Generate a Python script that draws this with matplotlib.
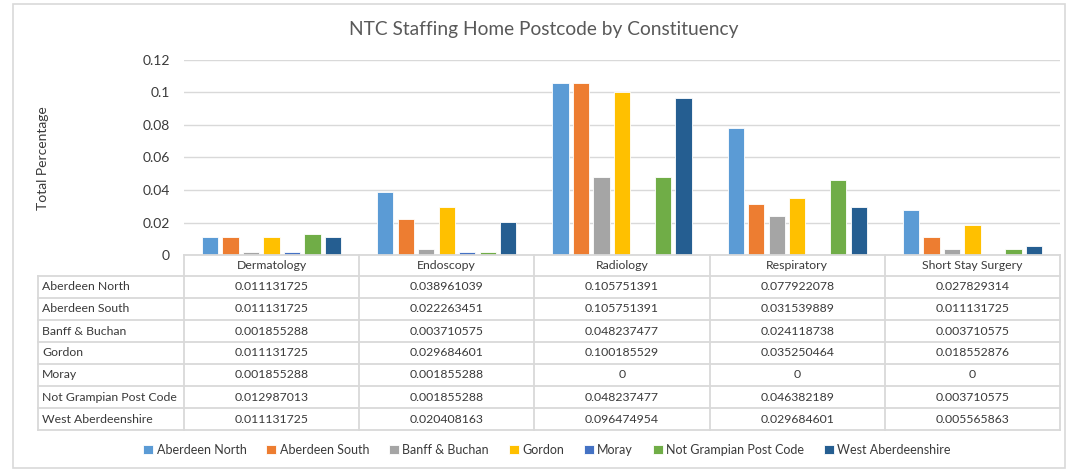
import matplotlib
matplotlib.use("Agg")
import matplotlib.pyplot as plt
from matplotlib.patches import Rectangle
from matplotlib.lines import Line2D
import numpy as np

plt.rcParams['font.family'] = ['Lato', 'DejaVu Sans']

categories = ["Dermatology", "Endoscopy", "Radiology", "Respiratory", "Short Stay Surgery"]
series_names = ["Aberdeen North", "Aberdeen South", "Banff & Buchan", "Gordon", "Moray",
                "Not Grampian Post Code", "West Aberdeenshire"]
aberdeen_north = [0.011131725, 0.038961039, 0.105751391, 0.077922078, 0.027829314]
aberdeen_south = [0.011131725, 0.022263451, 0.105751391, 0.031539889, 0.011131725]
banff_buchan = [0.001855288, 0.003710575, 0.048237477, 0.024118738, 0.003710575]
gordon = [0.011131725, 0.029684601, 0.100185529, 0.035250464, 0.018552876]
moray = [0.001855288, 0.001855288, 0, 0, 0]
not_grampian = [0.012987013, 0.001855288, 0.048237477, 0.046382189, 0.003710575]
west_aberdeenshire = [0.011131725, 0.020408163, 0.096474954, 0.029684601, 0.005565863]
series_values = [aberdeen_north, aberdeen_south, banff_buchan, gordon, moray,
                 not_grampian, west_aberdeenshire]
table_text = [
    ["0.011131725", "0.038961039", "0.105751391", "0.077922078", "0.027829314"],
    ["0.011131725", "0.022263451", "0.105751391", "0.031539889", "0.011131725"],
    ["0.001855288", "0.003710575", "0.048237477", "0.024118738", "0.003710575"],
    ["0.011131725", "0.029684601", "0.100185529", "0.035250464", "0.018552876"],
    ["0.001855288", "0.001855288", "0", "0", "0"],
    ["0.012987013", "0.001855288", "0.048237477", "0.046382189", "0.003710575"],
    ["0.011131725", "0.020408163", "0.096474954", "0.029684601", "0.005565863"],
]
yticks = [0, 0.02, 0.04, 0.06, 0.08, 0.1, 0.12]
ytick_labels = ["0", "0.02", "0.04", "0.06", "0.08", "0.1", "0.12"]
colors = ["#5B9BD5", "#ED7D31", "#A5A5A5", "#FFC000", "#4472C4", "#70AD47", "#255E91"]

W, H = 1068, 469
fig = plt.figure(figsize=(W / 100, H / 100), dpi=100)

def fx(x):
    return x / W

def fy(y):
    return 1 - y / H

grid_c = "#D9D9D9"
text_c = "#3A3A3A"

# outer frame
fig.patches.append(Rectangle((fx(13), fy(468)), fx(1065) - fx(13), fy(4) - fy(468),
                             transform=fig.transFigure, fill=False, edgecolor="#D9D9D9", lw=1.2))

px_left, px_right, px_top, px_zero = 184, 1060, 60, 255
ax = fig.add_axes([fx(px_left), fy(px_zero), fx(px_right) - fx(px_left), fy(px_top) - fy(px_zero)])
ax.set_xlim(0, len(categories))
ax.set_ylim(0, 0.12)
x = np.arange(len(categories)) + 0.5
bw = 0.093
step = 0.117
for i, (name, vals) in enumerate(zip(series_names, series_values)):
    ax.bar(x + (i - 3) * step, vals, width=bw, color=colors[i], edgecolor="white",
           linewidth=0.6, label=name, zorder=3)
ax.set_yticks(yticks)
ax.set_yticklabels(ytick_labels, fontsize=10, color=text_c)
ax.yaxis.grid(True, color=grid_c, lw=1, zorder=0)
ax.set_xticks([])
for s in ax.spines.values():
    s.set_visible(False)
ax.tick_params(axis='y', length=0, pad=10)

fig.text(fx(544), fy(29), "NTC Staffing Home Postcode by Constituency", ha="center", va="center",
         fontsize=13.8, color="#595959")
fig.text(fx(43), fy(158), "Total Percentage", rotation=90, ha="center", va="center",
         fontsize=10, color=text_c)

# data table
col_w = (px_right - px_left) / len(categories)
hdr_top, hdr_bot = 255, 276
row_h = 22
lab_left = 38
n_rows = len(series_names)
tab_bot = hdr_bot + n_rows * row_h
tfs = 8.8

def hline(y, x0, x1):
    fig.add_artist(Line2D([fx(x0), fx(x1)], [fy(y), fy(y)], transform=fig.transFigure,
                          color=grid_c, lw=1.3))

def vline(x0, y0, y1):
    fig.add_artist(Line2D([fx(x0), fx(x0)], [fy(y0), fy(y1)], transform=fig.transFigure,
                          color=grid_c, lw=1.3))

hline(hdr_top, px_left, px_right)
for r in range(n_rows + 1):
    hline(hdr_bot + r * row_h, lab_left, px_right)
for c in range(len(categories) + 1):
    vline(px_left + c * col_w, hdr_top, tab_bot)
vline(lab_left, hdr_bot, tab_bot)

for c, cat in enumerate(categories):
    fig.text(fx(px_left + (c + 0.5) * col_w), fy((hdr_top + hdr_bot) / 2), cat,
             ha="center", va="center", fontsize=tfs, color=text_c)
for r, name in enumerate(series_names):
    yc = hdr_bot + (r + 0.5) * row_h
    fig.text(fx(lab_left + 4), fy(yc), name, ha="left", va="center", fontsize=tfs, color=text_c)
    for c in range(len(categories)):
        fig.text(fx(px_left + (c + 0.5) * col_w), fy(yc), table_text[r][c],
                 ha="center", va="center", fontsize=tfs, color=text_c)

handles, labels = ax.get_legend_handles_labels()
fig.legend(handles, labels, loc="center", bbox_to_anchor=(fx(547), fy(450)), ncol=7,
           frameon=False, fontsize=9, handlelength=0.8, handleheight=0.8, handletextpad=0.3,
           columnspacing=1.55, labelcolor=text_c)

fig.savefig("out.png", dpi=100)
